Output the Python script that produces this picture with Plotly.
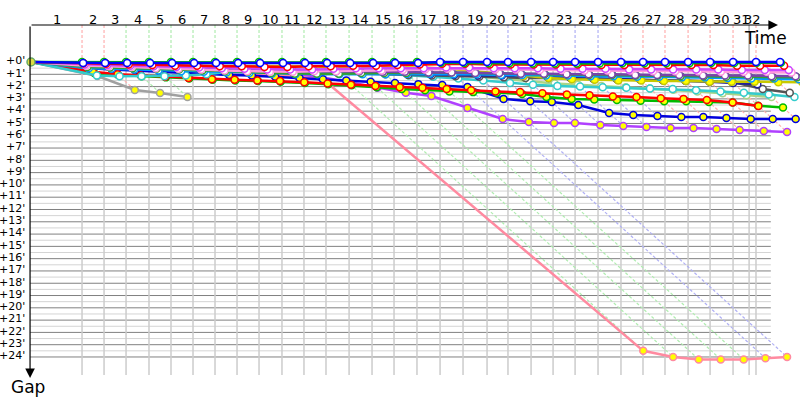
import plotly.graph_objects as go

# leader's lap completion times (minutes from the start), laps 1..32
lap_times = [3.78, 5.41, 7.04, 8.74, 10.37, 12.00, 13.63, 15.26, 16.89, 18.59,
             20.22, 21.85, 23.56, 25.26, 26.89, 28.59, 30.30, 32.00, 33.78, 35.33,
             37.04, 38.67, 40.30, 42.00, 43.70, 45.33, 46.96, 48.67, 50.30, 52.00,
             53.70, 55.48]
finish_time = 53.19
lap_labels = [str(i) for i in range(1, 33)]
gap_ticks = list(range(0, 25))

# gap to the leader (minutes) at each completed lap
blue_w = [0.08, 0.08, 0.08, 0.08, 0.08, 0.08, 0.08, 0.08, 0.08, 0.08, 0.08, 0.08, 0.08, 0.08, 0.08, 0.08,
          0, 0, 0, 0, 0, 0, 0, 0, 0, 0, 0, 0, 0, 0, 0, 0]
green_w = [0, 0, 0, 0, 0, 0, 0, 0, 0, 0, 0, 0, 0, 0, 0, 0,
           0.06, 0.08, 0.1, 0.1, 0.12, 0.12, 0.12, 0.12, 0.1, 0.1, 0.1, 0.1, 0.08, 0.08, 0.06, 0.06]
red_w = [0.1, 0.15, 0.2, 0.25, 0.3, 0.3, 0.35, 0.35, 0.4, 0.4, 0.35, 0.35, 0.3, 0.3, 0.25, 0.2,
         0.15, 0.15, 0.2, 0.2, 0.2, 0.2, 0.2, 0.25, 0.25, 0.25, 0.25, 0.25, 0.25, 0.3, 0.3, 0.3]
violet_w = [0.2, 0.25, 0.3, 0.35, 0.4, 0.45, 0.5, 0.55, 0.6, 0.6, 0.6, 0.55, 0.5, 0.5, 0.5, 0.5,
            0.45, 0.45, 0.5, 0.5, 0.5, 0.55, 0.55, 0.55, 0.6, 0.6, 0.6, 0.6, 0.6, 0.65, 0.65, 0.65]
pink_w = [0.3, 0.35, 0.4, 0.5, 0.55, 0.6, 0.7, 0.75, 0.8, 0.8, 0.75, 0.75, 0.7, 0.7, 0.65, 0.6,
          0.55, 0.55, 0.6, 0.6, 0.65, 0.65, 0.7, 0.7, 0.7, 0.75, 0.75, 0.75, 0.8, 0.8, 0.8, 0.85]
purple_w = [0.25, 0.3, 0.35, 0.4, 0.45, 0.5, 0.55, 0.6, 0.65, 0.7, 0.7, 0.75, 0.75, 0.8, 0.8, 0.85,
            0.85, 0.9, 0.9, 0.95, 0.95, 1.0, 1.0, 1.0, 1.05, 1.05, 1.05, 1.1, 1.1, 1.1, 1.15, 1.15]
green2_w = [0.4, 0.45, 0.5, 0.55, 0.6, 0.7, 0.75, 0.8, 0.9, 0.95, 0.95, 0.95, 0.9, 0.9, 0.9, 0.85,
            0.85, 0.9, 0.9, 0.95, 1.0, 1.0, 1.05, 1.05, 1.1, 1.1, 1.15, 1.15, 1.2, 1.2, 1.25, 1.25]
sky_w = [0.5, 0.55, 0.6, 0.7, 0.75, 0.8, 0.85, 0.9, 0.95, 1.0, 1.0, 1.0, 1.0, 1.0, 0.95, 0.95,
         1.0, 1.0, 1.05, 1.05, 1.1, 1.1, 1.15, 1.15, 1.2, 1.2, 1.25, 1.25, 1.3, 1.35, 1.35, 1.4]
olive_y = [0.15, 0.2, 0.25, 0.3, 0.3, 0.3, 0.35, 0.35, 0.35, 0.35, 0.35, 0.4, 0.4, 0.4, 0.4, 0.45,
           0.55, 0.75, 0.95, 1.15, 1.3, 1.4, 1.45, 1.5, 1.5, 1.55, 1.55, 1.6, 1.6, 1.6, 1.65, 1.65]
navy_w = [0.3, 0.35, 0.4, 0.45, 0.5, 0.55, 0.6, 0.65, 0.7, 0.75, 0.8, 0.85, 0.9, 0.9, 0.95,
          1.0, 1.05, 1.1, 1.1, 1.15, 1.2, 1.25, 1.3, 1.35, 1.4, 1.45, 1.55, 1.6, 1.7, 1.8]
dgray_w = [0.35, 0.4, 0.45, 0.5, 0.55, 0.6, 0.65, 0.7, 0.75, 0.8, 0.85, 0.9, 0.95, 1.0, 1.05, 1.1,
           1.15, 1.2, 1.25, 1.3, 1.3, 1.35, 1.4, 1.45, 1.45, 1.5, 1.5, 1.55, 1.6, 2.2, 2.5]
teal_w = [1.1, 1.15, 1.15, 1.15, 1.1, 1.0, 0.8, 0.65, 0.55, 0.6, 0.65, 0.7, 0.8, 0.95, 1.1, 1.2,
          1.35, 1.5, 1.7, 1.85, 1.95, 2.0, 2.05, 2.1, 2.15, 2.2, 2.3, 2.4, 2.5, 2.65, 2.85]
ygreen_w = [0.25, 0.3, 0.35, 0.4, 0.45, 0.5, 0.55, 0.6, 0.6, 0.65, 0.7, 0.7, 0.75, 0.8, 0.85,
            0.9, 1.0, 1.2, 1.4, 1.6, 1.75, 1.85, 1.95, 2.05, 2.15, 2.25, 2.4, 2.55, 2.7, 2.85]
red_y = [0.8, 1.0, 1.1, 1.2, 1.3, 1.4, 1.45, 1.5, 1.55, 1.65, 1.75, 1.85, 1.95, 2.05, 2.1,
         2.2, 2.3, 2.4, 2.45, 2.55, 2.65, 2.7, 2.8, 2.85, 2.95, 3.0, 3.1, 3.3, 3.58]
green_y = [0.9, 1.05, 1.15, 1.25, 1.35, 1.45, 1.5, 1.55, 1.6, 1.7, 1.8, 1.9, 2.05, 2.2, 2.3,
           2.4, 2.45, 2.5, 2.6, 2.85, 3.0, 3.05, 3.1, 3.15, 3.2, 3.2, 3.25, 3.3, 3.55, 3.7]
blue_y = [0.5, 0.6, 0.7, 0.8, 0.9, 1.0, 1.05, 1.1, 1.2, 1.3, 1.4, 1.5, 1.6, 1.7, 1.8,
          1.87, 2.03, 3.0, 3.2, 3.25, 3.5, 4.15, 4.31, 4.4, 4.47, 4.47, 4.55, 4.64, 4.64, 4.64]
purple_y = [0.3, 0.4, 0.5, 0.55, 0.6, 0.65, 0.7, 0.75, 0.85, 0.95, 1.22, 1.63, 2.1, 2.5, 2.77,
            3.74, 4.64, 4.88, 4.96, 4.96, 5.13, 5.2, 5.29, 5.37, 5.37, 5.45, 5.53, 5.61, 5.7]
pink_y = [0.4, 0.5, 0.6, 0.7, 0.8, 0.85, 0.9, 0.95, 1.05, 1.15, 1.22,
          23.5, 24.0, 24.2, 24.2, 24.2, 24.1, 24.0]
gray_y = [1.14, 2.28, 2.52, 2.85]

# (gaps, line colour, marker fill) - drawn bottom first
cars = [
    (gray_y, "#a0a0a0", "#ffff00"),
    (pink_y, "#ff8aa0", "#ffff00"),
    (purple_y, "#b040ff", "#ffff00"),
    (blue_y, "#0000dd", "#ffff00"),
    (green_y, "#00bb00", "#ffff00"),
    (red_y, "#ff0000", "#ffff00"),
    (ygreen_w, "#aad488", "white"),
    (teal_w, "#33cccc", "white"),
    (dgray_w, "#555555", "white"),
    (navy_w, "#222299", "white"),
    (olive_y, "#c8c800", "#ffff00"),
    (sky_w, "#0099ff", "white"),
    (green2_w, "#33a033", "white"),
    (purple_w, "#7744aa", "white"),
    (pink_w, "#ff99dd", "white"),
    (violet_w, "#cc44ff", "white"),
    (red_w, "#ff0000", "white"),
    (green_w, "#00c000", "white"),
    (blue_w, "#0000ff", "white"),
]

LAP_COLORS = {"pink": "#ffb0b0", "green": "#b0ecb0", "blue": "#b0b0f4"}


def lap_color(i):
    if i < 2 or i >= 24:
        return LAP_COLORS["pink"]
    if i < 16:
        return LAP_COLORS["green"]
    return LAP_COLORS["blue"]


TOP = -3.01
BOTTOM = 25.47
X_LEFT = -0.07
X_RIGHT = 54.8
FONT = "DejaVu Sans"

fig = go.Figure()


def add_lines(xs, ys, color, width=1, dash=None):
    fig.add_trace(go.Scatter(x=xs, y=ys, mode="lines", hoverinfo="skip",
                             line=dict(color=color, width=width, dash=dash)))


# horizontal grid: half minutes light, full minutes dark
xs, ys = [], []
for m in gap_ticks[:-1]:
    xs += [X_LEFT, X_RIGHT, None]
    ys += [m + 0.5, m + 0.5, None]
add_lines(xs, ys, "#d4d4d4")
xs, ys = [], []
for m in gap_ticks:
    xs += [X_LEFT, X_RIGHT, None]
    ys += [m, m, None]
add_lines(xs, ys, "#808080")

# vertical grid at lap times
grid_times = lap_times[:31] + [finish_time]
xs, ys = [], []
for t in grid_times:
    xs += [t, t, None]
    ys += [0, BOTTOM, None]
add_lines(xs, ys, "#cccccc", 1.5)
add_lines([finish_time, finish_time], [TOP, 0], "#b0b0b0", 1.5)

# lap markers above the chart and "real time" diagonals to the last car
for i in range(31):
    t = lap_times[i]
    running = [c[0][i] for c in cars if len(c[0]) > i]
    last = max(running)
    add_lines([t, t, t + last], [TOP, 0, last], lap_color(i), 1.2, "3px,2px")

# cars
for gaps, color, fill in cars:
    xs = [0] + [lap_times[i] + g for i, g in enumerate(gaps)]
    ys = [0] + list(gaps)
    add_lines(xs, ys, color, 2.5)
    fig.add_trace(go.Scatter(x=xs[1:], y=ys[1:], mode="markers", hoverinfo="skip",
                             marker=dict(size=7, color=fill, line=dict(color=color, width=1.5))))
fig.add_trace(go.Scatter(x=[0], y=[0], mode="markers", hoverinfo="skip",
                         marker=dict(size=8, color="#dddd44", line=dict(color="#66aa66", width=1.5))))

annotations = []
# axes with arrows
annotations.append(dict(x=55.33, y=TOP, ax=X_LEFT, ay=TOP, xref="x", yref="y", axref="x", ayref="y",
                        showarrow=True, arrowhead=2, arrowsize=1.6, arrowwidth=1.2, arrowcolor="black", text=""))
annotations.append(dict(x=X_LEFT, y=25.71, ax=X_LEFT, ay=TOP, xref="x", yref="y", axref="x", ayref="y",
                        showarrow=True, arrowhead=2, arrowsize=1.6, arrowwidth=1.2, arrowcolor="black", text=""))
annotations.append(dict(x=54.37, y=-1.95, text="Time", showarrow=False, xref="x", yref="y",
                        font=dict(family=FONT, size=17, color="black")))
annotations.append(dict(x=-0.22, y=26.44, text="Gap", showarrow=False, xref="x", yref="y",
                        font=dict(family=FONT, size=17, color="black")))

# lap numbers centred in each lap interval
bounds = [0] + lap_times[:30] + [finish_time, lap_times[30]]
for k, lab in enumerate(lap_labels):
    annotations.append(dict(x=(bounds[k] + bounds[k + 1]) / 2, y=-3.42, text=lab, showarrow=False,
                            xref="x", yref="y", font=dict(family=FONT, size=13, color="black")))

# gap labels
for m in gap_ticks:
    annotations.append(dict(x=-0.28, y=m - 0.1, text="+%d'" % m, showarrow=False, xanchor="right",
                            xref="x", yref="y", font=dict(family=FONT, size=11, color="black")))

fig.update_layout(
    width=800, height=400,
    margin=dict(l=0, r=0, t=0, b=0),
    paper_bgcolor="white", plot_bgcolor="white",
    showlegend=False,
    xaxis=dict(range=[-2.296, 56.96], visible=False),
    yaxis=dict(range=[27.50, -5.045], visible=False),
    annotations=annotations,
)

# drop the page's default 8px body margin so the figure fills the window
fig.write_html("out.html", config={"displayModeBar": False},
               post_script="document.body.style.margin='0px';")
